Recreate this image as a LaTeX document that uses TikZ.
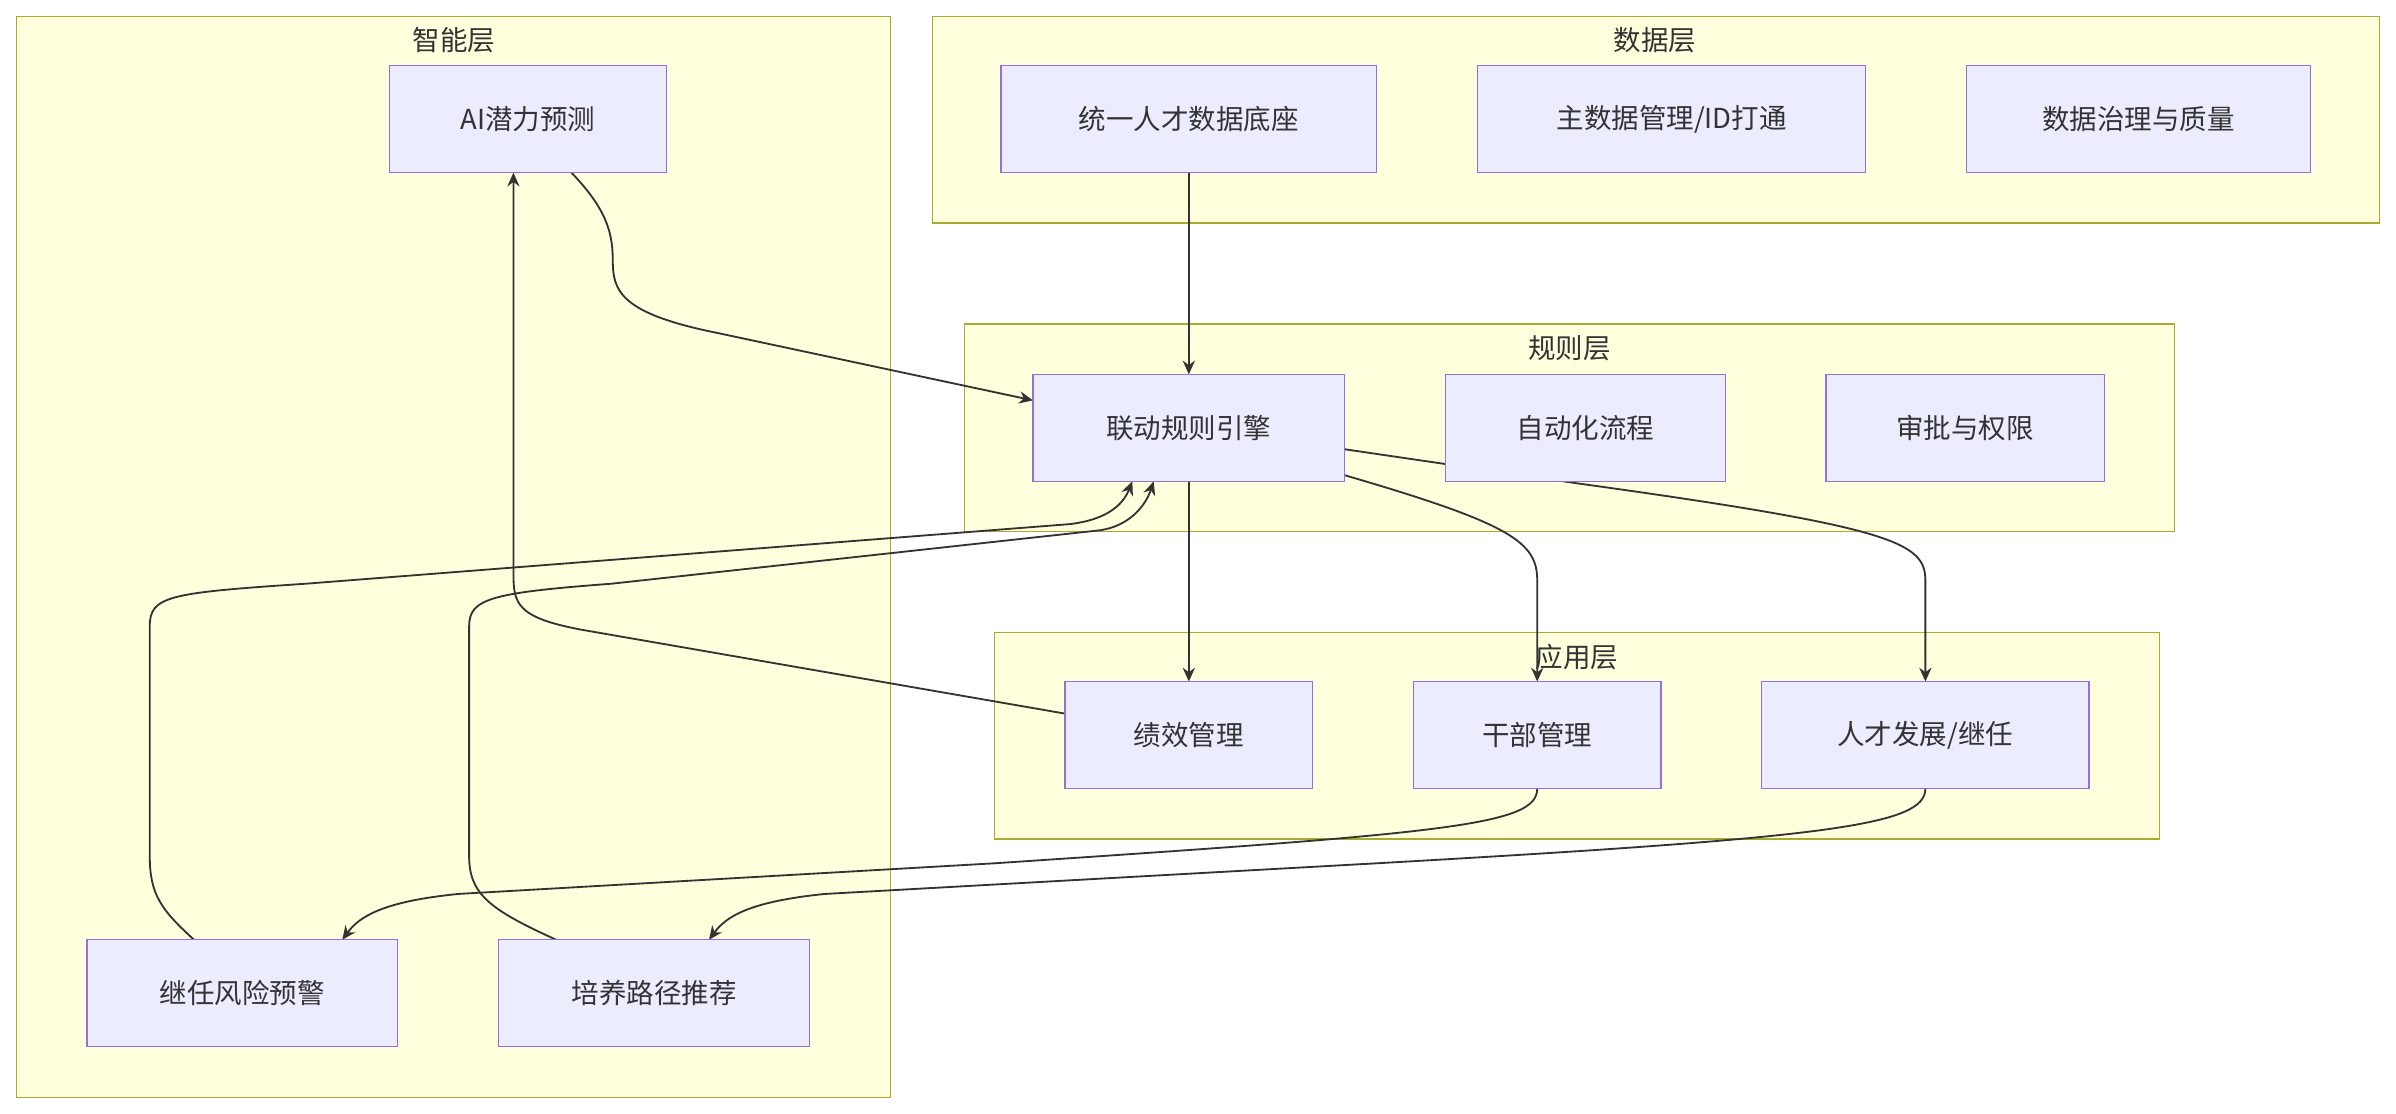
\documentclass[tikz,border=0pt]{standalone}
\usepackage{fontspec}
\setmainfont{Noto Sans CJK SC}
\usetikzlibrary{arrows.meta}
\definecolor{clfill}{HTML}{FFFFDE}
\definecolor{cldraw}{HTML}{AAAA33}
\definecolor{nfill}{HTML}{ECECFF}
\definecolor{ndraw}{HTML}{9370DB}
\definecolor{ln}{HTML}{333333}
\begin{document}
\begin{tikzpicture}[x=1pt,y=-1pt,
  cl/.style={draw=cldraw,fill=clfill,line width=0.8pt},
  ttl/.style={font=\fontsize{18}{22}\selectfont,text=ln},
  nd/.style={draw=ndraw,fill=nfill,line width=0.8pt,font=\fontsize{18}{22}\selectfont,text=ln},
  ed/.style={draw=ln,line width=1.2pt,-{Stealth[length=9pt,width=8pt]}}]
\useasboundingbox (0,0) rectangle (1568,729);
% clusters
\draw[cl] (11,11) rectangle (583,718); \node[ttl] (t1) at (297,26) {智能层};
\draw[cl] (610,11) rectangle (1557,146); \node[ttl] (t2) at (1083,26) {数据层};
\draw[cl] (631,212) rectangle (1423,348); \node[ttl] (t3) at (1027,228) {规则层};
\draw[cl] (651,414) rectangle (1413,549); \node[ttl] (t4) at (1032,430) {应用层};
% edges (drawn before nodes)
\coordinate (e2s) at (374,113);
\draw[ed] (e2s) .. controls (395,135) and (401,150) .. (401,170) .. controls (401,190) and (405,205) .. (470,218) -- (676,262);
\draw[ed] (880,294) -- (1030,316) .. controls (1240,345) and (1260,355) .. (1260,380) -- (1260,446);
\draw[ed] (880,311) .. controls (990,343) and (1006,355) .. (1006,380) -- (1006,446);
\draw[ed] (778,113) -- (778,245);
\draw[ed] (778,315) -- (778,446);
\draw[ed] (697,467) -- (380,412) .. controls (338,404) and (336,395) .. (336,375) -- (336,113);
\draw[ed] (1006,516) .. controls (1006,540) and (950,545) .. (650,565) -- (300,585) .. controls (250,590) and (235,600) .. (224,615);
\draw[ed] (1260,516) .. controls (1260,540) and (1200,548) .. (900,565) -- (540,585) .. controls (490,590) and (475,600) .. (464,615);
\draw[ed] (127,615) .. controls (105,595) and (98,585) .. (98,560) -- (98,410) .. controls (98,390) and (110,388) .. (200,382) -- (700,343) .. controls (725,340) and (735,330) .. (741,315);
\draw[ed] (364,615) .. controls (320,595) and (307,585) .. (307,560) -- (307,410) .. controls (307,392) and (320,388) .. (400,382) -- (720,347) .. controls (740,344) and (750,330) .. (755,315);
% nodes
\node[nd,minimum width=181,minimum height=70] (ai) at (345.5,78) {AI潜力预测};
\node[nd,minimum width=246,minimum height=70] (d1) at (778,78) {统一人才数据底座};
\node[nd,minimum width=254,minimum height=70] (d2) at (1094,78) {主数据管理/ID打通};
\node[nd,minimum width=225,minimum height=70] (d3) at (1399.5,78) {数据治理与质量};
\node[nd,minimum width=204,minimum height=70] (r1) at (778,280) {联动规则引擎};
\node[nd,minimum width=183,minimum height=70] (r2) at (1037.5,280) {自动化流程};
\node[nd,minimum width=182,minimum height=70] (r3) at (1286,280) {审批与权限};
\node[nd,minimum width=162,minimum height=70] (a1) at (778,481) {绩效管理};
\node[nd,minimum width=162,minimum height=70] (a2) at (1006,481) {干部管理};
\node[nd,minimum width=214,minimum height=70] (a3) at (1260,481) {人才发展/继任};
\node[nd,minimum width=203,minimum height=70] (i1) at (158.5,650) {继任风险预警};
\node[nd,minimum width=204,minimum height=70] (i2) at (428,650) {培养路径推荐};
\end{tikzpicture}
\end{document}
